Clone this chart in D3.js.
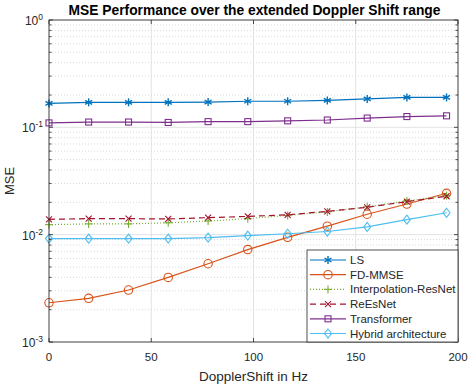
<!DOCTYPE html>
<html>
<head>
<meta charset="utf-8">
<script src="https://cdn.jsdelivr.net/npm/d3@7"></script>
<style>
  body { margin: 0; background: #fff; }
  svg { font-family: "Liberation Sans", Arial, sans-serif; }
</style>
</head>
<body>
<div id="chart"></div>
<script>
// data
const dopplerHz = [0, 19.4, 38.9, 58.3, 77.8, 97.2, 116.7, 136.1, 155.6, 175, 194.4];
const mseLS = [0.167, 0.171, 0.171, 0.171, 0.172, 0.175, 0.175, 0.178, 0.184, 0.190, 0.190];
const mseFDMMSE = [0.00232, 0.00255, 0.00305, 0.00400, 0.00536, 0.00726, 0.00944, 0.0120, 0.0155, 0.0193, 0.0243];
const mseInterpResNet = [0.0124, 0.0126, 0.0126, 0.0129, 0.0134, 0.0141, 0.0151, 0.0163, 0.0182, 0.0206, 0.0231];
const mseReEsNet = [0.0139, 0.0141, 0.0141, 0.0140, 0.0144, 0.0148, 0.0153, 0.0165, 0.0180, 0.0203, 0.0228];
const mseTransformer = [0.110, 0.112, 0.112, 0.111, 0.113, 0.113, 0.115, 0.117, 0.122, 0.126, 0.128];
const mseHybrid = [0.0092, 0.0092, 0.0092, 0.0092, 0.0094, 0.0098, 0.0102, 0.0107, 0.0118, 0.0138, 0.0160];
const seriesNames = ["LS", "FD-MMSE", "Interpolation-ResNet", "ReEsNet", "Transformer", "Hybrid architecture"];
const xTicks = [0, 50, 100, 150, 200];
const yDecades = [-3, -2, -1, 0];

const series = [
  {name: seriesNames[0], vals: mseLS, color: "#0072BD", dash: null, marker: "star"},
  {name: seriesNames[1], vals: mseFDMMSE, color: "#D95319", dash: null, marker: "circle"},
  {name: seriesNames[2], vals: mseInterpResNet, color: "#77AC30", dash: "1,2", marker: "plus"},
  {name: seriesNames[3], vals: mseReEsNet, color: "#A2142F", dash: "6,4", marker: "cross"},
  {name: seriesNames[4], vals: mseTransformer, color: "#7E2F8E", dash: null, marker: "square"},
  {name: seriesNames[5], vals: mseHybrid, color: "#4DBEEE", dash: null, marker: "diamond"}
];

const W = 468, H = 386;
const margin = {top: 20, right: 10, bottom: 44, left: 49};
const width = W - margin.left - margin.right,
      height = H - margin.top - margin.bottom;

const svg = d3.select("#chart").append("svg")
  .attr("width", W).attr("height", H);

const g = svg.append("g")
  .attr("transform", "translate(" + margin.left + "," + margin.top + ")");

const x = d3.scaleLinear().domain([0, 200]).range([0, width]);
const y = d3.scaleLog().domain([1e-3, 1]).range([height, 0]);

const axisCol = "#262626";

// minor y grid (dotted)
const minorVals = [];
yDecades.slice(0, 3).forEach(function(e){
  for (let k = 2; k <= 9; k++) minorVals.push(k * Math.pow(10, e));
});
g.append("g").selectAll("line").data(minorVals).enter().append("line")
  .attr("x1", 0).attr("x2", width)
  .attr("y1", d => y(d)).attr("y2", d => y(d))
  .attr("stroke", "#cfcfcf").attr("stroke-width", 0.8)
  .attr("stroke-dasharray", "1,2");

// major grid
g.append("g").selectAll("line").data(yDecades.map(e => Math.pow(10, e))).enter().append("line")
  .attr("x1", 0).attr("x2", width)
  .attr("y1", d => y(d)).attr("y2", d => y(d))
  .attr("stroke", "#dcdcdc").attr("stroke-width", 0.8);
g.append("g").selectAll("line").data(xTicks).enter().append("line")
  .attr("x1", d => x(d)).attr("x2", d => x(d))
  .attr("y1", 0).attr("y2", height)
  .attr("stroke", "#dcdcdc").attr("stroke-width", 0.8);

// series lines
const line = d3.line()
  .x((d, i) => x(dopplerHz[i]))
  .y(d => y(d));

function drawMarker(sel, type, color, cx, cy) {
  const m = sel.append("g").attr("transform", "translate(" + cx + "," + cy + ")")
    .attr("stroke", color).attr("fill", "none").attr("stroke-width", 1.1);
  if (type == "star") {
    m.attr("stroke-width", 1.4);
    m.append("line").attr("x1", 0).attr("y1", -4).attr("x2", 0).attr("y2", 4);
    m.append("line").attr("x1", -3.5).attr("y1", -2).attr("x2", 3.5).attr("y2", 2);
    m.append("line").attr("x1", -3.5).attr("y1", 2).attr("x2", 3.5).attr("y2", -2);
  } else if (type == "circle") {
    m.append("circle").attr("r", 4.2);
  } else if (type == "plus") {
    m.append("line").attr("x1", 0).attr("y1", -4).attr("x2", 0).attr("y2", 4);
    m.append("line").attr("x1", -4).attr("y1", 0).attr("x2", 4).attr("y2", 0);
  } else if (type == "cross") {
    m.append("line").attr("x1", -3).attr("y1", -3).attr("x2", 3).attr("y2", 3);
    m.append("line").attr("x1", -3).attr("y1", 3).attr("x2", 3).attr("y2", -3);
  } else if (type == "square") {
    m.append("rect").attr("x", -3).attr("y", -3).attr("width", 6).attr("height", 6);
  } else if (type == "diamond") {
    m.append("path").attr("d", "M0,-4.5L3.5,0L0,4.5L-3.5,0Z");
  }
}

series.forEach(function(s){
  g.append("path").datum(s.vals)
    .attr("fill", "none")
    .attr("stroke", s.color)
    .attr("stroke-width", 1.2)
    .attr("stroke-dasharray", s.dash)
    .attr("d", line);
  const mk = g.append("g");
  s.vals.forEach(function(v, i){
    drawMarker(mk, s.marker, s.color, x(dopplerHz[i]), y(v));
  });
});

// box
g.append("rect").attr("width", width).attr("height", height)
  .attr("fill", "none").attr("stroke", axisCol).attr("stroke-width", 0.8);

// ticks, inward
xTicks.forEach(function(t){
  g.append("line").attr("x1", x(t)).attr("x2", x(t)).attr("y1", height).attr("y2", height - 4)
    .attr("stroke", axisCol).attr("stroke-width", 0.8);
  g.append("line").attr("x1", x(t)).attr("x2", x(t)).attr("y1", 0).attr("y2", 4)
    .attr("stroke", axisCol).attr("stroke-width", 0.8);
  g.append("text").attr("x", x(t)).attr("y", height + 19)
    .attr("text-anchor", "middle").attr("font-size", 11.5).attr("fill", axisCol)
    .text(t);
});
minorVals.concat(yDecades.map(e => Math.pow(10, e))).forEach(function(v){
  const len = minorVals.indexOf(v) >= 0 ? 2.5 : 4;
  g.append("line").attr("x1", 0).attr("x2", len).attr("y1", y(v)).attr("y2", y(v))
    .attr("stroke", axisCol).attr("stroke-width", 0.8);
  g.append("line").attr("x1", width).attr("x2", width - len).attr("y1", y(v)).attr("y2", y(v))
    .attr("stroke", axisCol).attr("stroke-width", 0.8);
});
yDecades.forEach(function(e){
  const t = g.append("text").attr("x", -6).attr("y", y(Math.pow(10, e)) + 5)
    .attr("text-anchor", "end").attr("font-size", 12).attr("fill", axisCol);
  t.append("tspan").text("10");
  t.append("tspan").attr("dy", -5).attr("font-size", 8.5).text(e);
});

// labels
svg.append("text").attr("x", margin.left + width / 2 + 1).attr("y", 15)
  .attr("text-anchor", "middle").attr("font-size", 13.8).attr("font-weight", "bold")
  .attr("fill", "#000").text("MSE Performance over the extended Doppler Shift range");
svg.append("text").attr("x", margin.left + width / 2).attr("y", 381)
  .attr("text-anchor", "middle").attr("font-size", 13.5).attr("fill", axisCol)
  .text("DopplerShift in Hz");
svg.append("text").attr("transform", "translate(14," + (margin.top + height / 2) + ") rotate(-90)")
  .attr("text-anchor", "middle").attr("font-size", 13).attr("fill", axisCol)
  .text("MSE");

// legend
const lg = svg.append("g").attr("transform", "translate(307,250)");
lg.append("rect").attr("width", 151).attr("height", 92)
  .attr("fill", "#fff").attr("stroke", axisCol).attr("stroke-width", 0.8);
series.forEach(function(s, i){
  const ly = 10 + i * 14.7;
  lg.append("line").attr("x1", 3).attr("x2", 39).attr("y1", ly).attr("y2", ly)
    .attr("stroke", s.color).attr("stroke-width", 1.2).attr("stroke-dasharray", s.dash);
  drawMarker(lg, s.marker, s.color, 21, ly);
  lg.append("text").attr("x", 43).attr("y", ly + 4)
    .attr("font-size", 11.5).attr("fill", axisCol).text(s.name);
});
</script>
</body>
</html>
